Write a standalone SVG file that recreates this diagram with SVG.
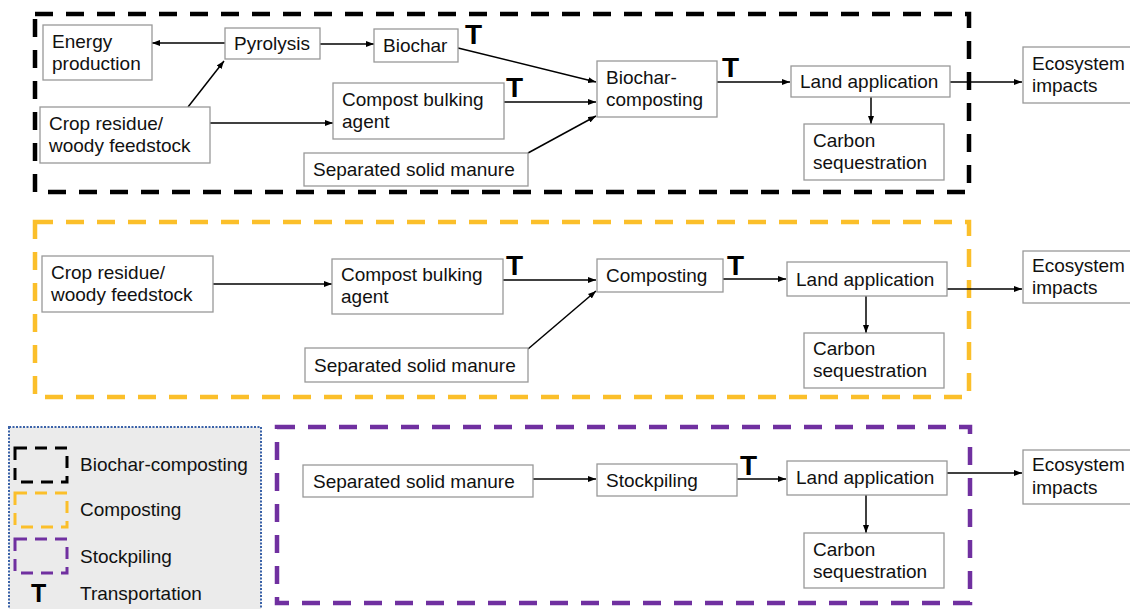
<svg xmlns="http://www.w3.org/2000/svg" width="1130" height="609" viewBox="0 0 1130 609">
<defs>
<marker id="ah" markerWidth="8" markerHeight="6" refX="8" refY="3" orient="auto" markerUnits="userSpaceOnUse">
<path d="M0,0 L8,3 L0,6 z" fill="#000"/>
</marker>
<style>
.box{fill:#fff;stroke:#999;stroke-width:1.3}
.t{font-family:"Liberation Sans",Arial,sans-serif;font-size:19px;fill:#111}
.T{font-family:"Liberation Sans",Arial,sans-serif;font-size:28px;font-weight:bold;fill:#000}
.c{fill:none;stroke:#000;stroke-width:1.5}
.ca{fill:none;stroke:#000;stroke-width:1.5;marker-end:url(#ah)}
.grp{fill:none;stroke-width:4.5;stroke-dasharray:18 13}
.lg{fill:none;stroke-width:3;stroke-dasharray:12 8}
</style>
</defs>
<rect width="1130" height="609" fill="#fff"/>

<g id="legend">
<rect x="9" y="427" width="252" height="190" fill="#ebebeb" stroke="#3a62a8" stroke-width="2" stroke-dasharray="2 1.5"/>
<rect x="15" y="448" width="52" height="34" class="lg" stroke="#000"/>
<rect x="15" y="493" width="52" height="34" class="lg" stroke="#fbbf2a"/>
<rect x="15" y="539" width="52" height="34" class="lg" stroke="#7030a0"/>
<text x="80" y="471" class="t">Biochar-composting</text>
<text x="80" y="516" class="t">Composting</text>
<text x="80" y="563" class="t">Stockpiling</text>
<text x="31" y="602" class="T" style="font-size:25px">T</text>
<text x="80" y="600" class="t">Transportation</text>
</g>

<g id="groups">
<rect id="grp-biochar" x="35" y="14" width="934" height="178" class="grp" stroke="#000"/>
<rect id="grp-composting" x="35" y="222" width="934" height="175" class="grp" stroke="#fbbf2a"/>
<rect id="grp-stockpiling" x="277" y="427" width="693" height="176" class="grp" stroke="#7030a0"/>
</g>

<g id="connectors">
<!-- row 1 -->
<path class="ca" d="M225,43 L152,43"/>
<path class="ca" d="M320,44 L374,44"/>
<path class="ca" d="M188,107 L224,61"/>
<path class="ca" d="M210,123 L333,123"/>
<path class="ca" d="M458,48 L596,82"/>
<path class="ca" d="M504,102 L596,102"/>
<path class="ca" d="M528,153 L596,116"/>
<path class="ca" d="M717,82 L790,82"/>
<path class="ca" d="M871,97 L871,124"/>
<path class="ca" d="M950,82 L1022,82"/>
<!-- row 2 -->
<path class="ca" d="M213,284 L332,284"/>
<path class="ca" d="M503,280 L596,280"/>
<path class="ca" d="M528,349 L596,291"/>
<path class="ca" d="M723,279 L786,279"/>
<path class="ca" d="M866,296 L866,333"/>
<path class="ca" d="M947,289 L1022,289"/>
<!-- row 3 -->
<path class="ca" d="M533,479 L596,479"/>
<path class="ca" d="M737,479 L786,479"/>
<path class="ca" d="M866,495 L866,533"/>
<path class="ca" d="M947,473 L1022,473"/>
</g>

<g id="transport-marks">
<text x="465" y="44" class="T">T</text>
<text x="506" y="97" class="T">T</text>
<text x="722" y="77" class="T">T</text>
<text x="506" y="275" class="T">T</text>
<text x="727" y="275" class="T">T</text>
<text x="740" y="475" class="T">T</text>
</g>

<!-- row 1 nodes -->
<g id="n-energy"><rect class="box" x="43" y="25" width="109" height="55"/><text class="t" x="52" y="48">Energy</text><text class="t" x="52" y="70">production</text></g>
<g id="n-pyrolysis"><rect class="box" x="225" y="28" width="95" height="31"/><text class="t" x="234" y="50">Pyrolysis</text></g>
<g id="n-biochar"><rect class="box" x="374" y="29" width="84" height="33"/><text class="t" x="383" y="52">Biochar</text></g>
<g id="n-crop1"><rect class="box" x="40" y="107" width="170" height="56"/><text class="t" x="49" y="130">Crop residue/</text><text class="t" x="49" y="152">woody feedstock</text></g>
<g id="n-bulk1"><rect class="box" x="333" y="83" width="171" height="56"/><text class="t" x="342" y="106">Compost bulking</text><text class="t" x="342" y="128">agent</text></g>
<g id="n-manure1"><rect class="box" x="304" y="153" width="224" height="33"/><text class="t" x="313" y="176">Separated solid manure</text></g>
<g id="n-bccomp"><rect class="box" x="597" y="61" width="120" height="56"/><text class="t" x="606" y="84">Biochar-</text><text class="t" x="606" y="106">composting</text></g>
<g id="n-land1"><rect class="box" x="791" y="66" width="159" height="31"/><text class="t" x="800" y="88">Land application</text></g>
<g id="n-carbon1"><rect class="box" x="804" y="124" width="140" height="56"/><text class="t" x="813" y="147">Carbon</text><text class="t" x="813" y="169">sequestration</text></g>
<g id="n-eco1"><rect class="box" x="1023" y="47" width="120" height="56"/><text class="t" x="1032" y="70">Ecosystem</text><text class="t" x="1032" y="92">impacts</text></g>

<!-- row 2 nodes -->
<g id="n-crop2"><rect class="box" x="42" y="256" width="171" height="56"/><text class="t" x="51" y="279">Crop residue/</text><text class="t" x="51" y="301">woody feedstock</text></g>
<g id="n-bulk2"><rect class="box" x="332" y="259" width="171" height="55"/><text class="t" x="341" y="281">Compost bulking</text><text class="t" x="341" y="303">agent</text></g>
<g id="n-composting"><rect class="box" x="597" y="259" width="126" height="33"/><text class="t" x="606" y="282">Composting</text></g>
<g id="n-manure2"><rect class="box" x="305" y="348" width="223" height="34"/><text class="t" x="314" y="372">Separated solid manure</text></g>
<g id="n-land2"><rect class="box" x="787" y="262" width="160" height="34"/><text class="t" x="796" y="286">Land application</text></g>
<g id="n-carbon2"><rect class="box" x="804" y="333" width="140" height="55"/><text class="t" x="813" y="355">Carbon</text><text class="t" x="813" y="377">sequestration</text></g>
<g id="n-eco2"><rect class="box" x="1023" y="251" width="120" height="52"/><text class="t" x="1032" y="272">Ecosystem</text><text class="t" x="1032" y="294">impacts</text></g>

<!-- row 3 nodes -->
<g id="n-manure3"><rect class="box" x="303" y="465" width="230" height="32"/><text class="t" x="313" y="488">Separated solid manure</text></g>
<g id="n-stockpiling"><rect class="box" x="597" y="464" width="140" height="32"/><text class="t" x="606" y="487">Stockpiling</text></g>
<g id="n-land3"><rect class="box" x="787" y="461" width="160" height="34"/><text class="t" x="796" y="484">Land application</text></g>
<g id="n-carbon3"><rect class="box" x="804" y="533" width="140" height="55"/><text class="t" x="813" y="556">Carbon</text><text class="t" x="813" y="578">sequestration</text></g>
<g id="n-eco3"><rect class="box" x="1023" y="450" width="120" height="54"/><text class="t" x="1032" y="471">Ecosystem</text><text class="t" x="1032" y="494">impacts</text></g>
</svg>
